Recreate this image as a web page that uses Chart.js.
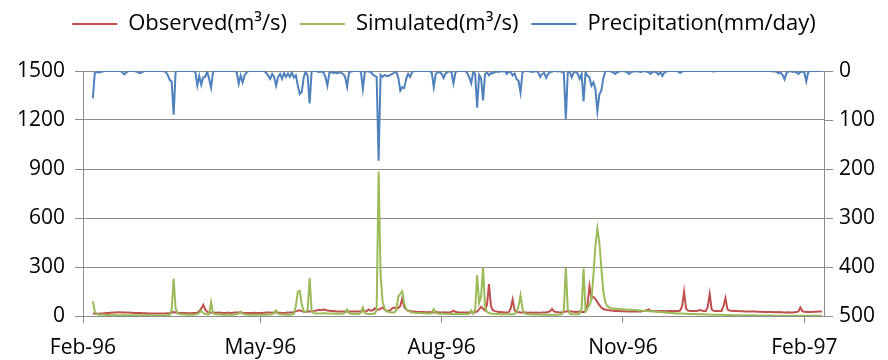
<!DOCTYPE html>
<html>
<head>
<meta charset="utf-8">
<script src="https://cdn.jsdelivr.net/npm/chart.js@4.4.1/dist/chart.umd.min.js"></script>
<style>
  body { margin: 0; background: #fff; }
</style>
</head>
<body>
<canvas id="flowChart" width="888" height="360"></canvas>
<script>
// daily values, first value = 6 Feb 1996 (day 5 counted from 1 Feb 1996)
const startDay = 5;

const tickDays = [0, 90, 182, 274, 366];
const tickLabels = ["Feb-96", "May-96", "Aug-96", "Nov-96", "Feb-97"];

const observed = [
  15,15,14,14,15,16,17,18,19,20,
  21,22,22,23,23,22,22,21,21,20,
  20,19,19,18,18,17,17,17,16,16,
  16,16,15,15,15,15,16,16,17,18,
  20,24,22,20,19,18,18,18,17,17,
  17,18,18,20,30,45,68,40,25,22,
  22,21,20,20,21,20,19,19,20,20,
  19,20,22,21,21,22,20,19,19,18,
  18,19,20,19,18,18,19,20,21,22,
  21,20,22,21,20,20,19,19,20,21,
  21,22,24,28,33,35,30,26,25,27,
  28,27,30,33,35,38,36,40,38,33,
  32,31,30,29,28,28,27,27,28,29,
  28,27,27,28,27,28,30,29,28,30,
  40,32,35,47,40,38,45,52,40,32,
  30,35,48,52,45,50,60,108,55,40,
  32,30,28,27,26,25,25,24,24,23,
  23,24,23,22,24,23,22,22,23,22,
  22,23,25,33,26,23,22,22,21,22,
  22,21,22,21,23,28,40,57,45,35,
  70,196,60,35,30,27,25,24,23,22,
  22,23,45,102,35,24,23,22,22,21,
  21,20,21,20,20,21,20,20,21,22,
  22,24,30,43,28,24,23,22,23,25,
  27,30,28,27,26,25,26,27,25,24,
  28,70,184,110,117,105,85,67,52,43,
  40,37,35,33,32,31,30,30,29,29,
  29,28,28,28,29,28,28,27,28,30,
  32,35,41,33,30,29,30,29,30,30,
  29,29,30,30,29,30,31,31,33,60,
  149,45,33,31,30,30,31,32,37,33,
  31,30,55,135,40,32,31,30,30,31,
  60,110,40,33,32,31,30,30,29,29,
  29,28,28,28,27,27,27,26,26,26,
  25,25,25,24,24,24,23,23,24,23,
  23,22,22,23,22,22,23,24,28,52,
  30,26,25,25,25,25,26,26,27,27,27
];

const simulated = [
  90,27,12,9,8,7,7,6,6,6,
  6,5,5,5,5,5,5,5,5,4,
  4,4,4,4,4,4,4,4,4,3,
  3,3,3,3,3,3,3,4,5,6,
  40,228,46,16,12,10,9,9,8,8,
  8,8,9,12,20,32,18,12,10,12,
  85,16,11,10,9,9,8,8,8,8,
  8,8,9,12,15,27,14,10,9,8,
  8,8,8,8,8,8,8,8,8,9,
  9,12,20,35,14,10,9,9,8,8,
  8,9,12,60,149,155,70,30,24,40,
  232,35,18,16,15,15,16,17,17,16,
  16,15,15,14,14,14,14,15,20,40,
  18,14,13,13,13,13,20,52,18,14,
  13,13,14,14,35,885,250,90,45,30,
  25,23,22,22,35,119,135,151,76,43,
  32,25,22,20,19,18,18,17,17,16,
  16,16,17,43,18,15,14,14,14,13,
  13,13,13,13,12,12,12,12,12,12,
  12,14,35,14,40,251,80,120,298,57,
  25,18,15,14,13,12,12,11,11,11,
  11,10,10,10,12,25,60,127,43,18,
  12,10,10,9,9,9,9,9,8,8,
  8,8,8,8,8,8,8,9,12,40,
  295,40,14,11,10,10,11,14,43,290,
  30,45,70,100,250,430,537,450,300,150,
  85,62,52,48,46,45,44,43,42,41,
  40,40,39,38,37,36,35,34,33,32,
  31,30,29,29,28,27,26,25,24,23,
  22,21,20,19,18,17,16,16,15,15,
  14,14,13,13,12,12,11,11,10,10,
  10,9,9,9,8,8,8,7,7,7,
  7,6,6,6,6,5,5,5,5,5,
  4,4,4,4,4,4,4,3,3,3,
  3,3,3,3,3,3,2,2,2,2,
  2,2,2,2,2,2,2,2,2,2,
  2,2,2,2,2,2,2,1,1,1,1
];

const precipitation = [
  56,3,2,3,2,1,0,0,0,0,
  0,0,0,0,0,3,7,3,0,0,
  0,0,1,3,5,2,0,0,0,0,
  0,0,0,0,0,0,0,2,8,18,
  22,89,1,0,0,0,0,0,0,0,
  0,0,2,30,10,28,13,12,1,16,
  34,1,0,0,0,0,0,0,0,0,
  0,0,0,2,26,9,23,9,3,0,
  0,0,0,0,0,0,0,0,4,10,
  16,6,12,30,12,6,16,4,12,5,
  12,3,13,9,30,47,43,13,1,10,
  66,1,0,0,1,2,1,3,12,30,
  4,2,4,3,5,2,4,6,12,32,
  3,1,0,0,0,0,1,37,2,0,
  1,2,7,10,12,183,8,12,8,10,
  10,8,6,3,2,14,40,33,35,16,
  6,12,2,0,0,0,0,0,0,0,
  0,0,4,33,6,3,2,6,14,5,
  2,0,3,25,2,0,0,0,0,0,
  4,13,25,2,6,75,8,15,60,6,
  3,9,4,5,2,1,2,0,1,0,
  6,2,2,9,5,16,20,44,3,0,
  0,0,1,2,1,0,3,12,6,4,
  14,6,2,1,0,0,1,0,2,4,
  98,3,2,13,3,2,5,16,6,62,
  2,10,13,30,23,37,82,48,40,15,
  1,0,0,1,3,6,3,1,0,0,
  1,2,6,3,1,0,1,1,2,1,
  0,1,3,6,2,1,3,7,2,10,
  3,1,0,0,0,0,0,1,4,1,
  0,0,0,0,0,0,0,0,0,0,
  0,0,0,0,0,1,0,0,0,0,
  0,0,0,0,0,0,0,0,0,0,
  0,0,0,0,0,0,0,0,0,0,
  0,0,0,0,0,1,0,2,5,3,
  8,17,4,1,0,2,1,3,6,2,
  1,3,21,2,0,0,0,0,0,0,0
];

function toPoints(arr) {
  return arr.map((v, i) => ({ x: startDay + i, y: v }));
}

const tickFont = { family: "Open Sans", size: 21 };
const gridColor = "#8c8c8c";

// make the legend box taller so the plot starts lower
const legendSpacer = {
  id: "legendSpacer",
  afterInit(chart) {
    const fit = chart.legend.fit;
    chart.legend.fit = function () {
      fit.call(this);
      this.height = 71;
    };
  },
};

new Chart(document.getElementById("flowChart"), {
  type: "line",
  data: {
    datasets: [
      {
        label: "Observed(m³/s)",
        data: toPoints(observed),
        borderColor: "#C0504D",
        backgroundColor: "#C0504D",
        borderWidth: 2,
        yAxisID: "y",
        order: 2,
      },
      {
        label: "Simulated(m³/s)",
        data: toPoints(simulated),
        borderColor: "#9BBB59",
        backgroundColor: "#9BBB59",
        borderWidth: 2,
        yAxisID: "y",
        order: 1,
      },
      {
        label: "Precipitation(mm/day)",
        data: toPoints(precipitation),
        borderColor: "#4F81BD",
        backgroundColor: "#4F81BD",
        borderWidth: 2,
        yAxisID: "y2",
        order: 0,
      },
    ],
  },
  options: {
    responsive: false,
    animation: false,
    layout: { padding: 0 },
    elements: {
      point: { radius: 0, pointStyle: "line" },
      line: { tension: 0 },
    },
    plugins: {
      tooltip: { enabled: false },
      legend: {
        position: "top",
        labels: {
          font: { family: "Open Sans", size: 22 },
          color: "#000",
          usePointStyle: true,
          pointStyle: "line",
          pointStyleWidth: 45,
          padding: 13,
          sort: (a, b) => a.datasetIndex - b.datasetIndex,
        },
      },
    },
    scales: {
      x: {
        type: "linear",
        min: 0,
        max: 376,
        afterBuildTicks: (s) => {
          s.ticks = tickDays.map((d) => ({ value: d }));
        },
        afterFit: (s) => {
          s.height = 44;
        },
        ticks: {
          font: tickFont,
          color: "#000",
          padding: 12,
          maxRotation: 0,
          autoSkip: false,
          callback: (v) => tickLabels[tickDays.indexOf(v)],
        },
        grid: { drawOnChartArea: false, tickLength: 7, color: gridColor },
        border: { color: gridColor },
      },
      y: {
        position: "left",
        min: 0,
        max: 1500,
        afterFit: (s) => {
          s.width = 83;
        },
        ticks: { stepSize: 300, font: tickFont, color: "#000", padding: 10, callback: (v) => String(v) },
        grid: { color: gridColor, tickLength: 8 },
        border: { color: gridColor },
      },
      y2: {
        position: "right",
        reverse: true,
        min: 0,
        max: 500,
        afterFit: (s) => {
          s.width = 64;
        },
        ticks: { stepSize: 100, font: tickFont, color: "#000", padding: 6, callback: (v) => String(v) },
        grid: { drawOnChartArea: false, tickLength: 9, color: gridColor },
        border: { color: gridColor },
      },
    },
  },
  plugins: [legendSpacer],
});
</script>
</body>
</html>
